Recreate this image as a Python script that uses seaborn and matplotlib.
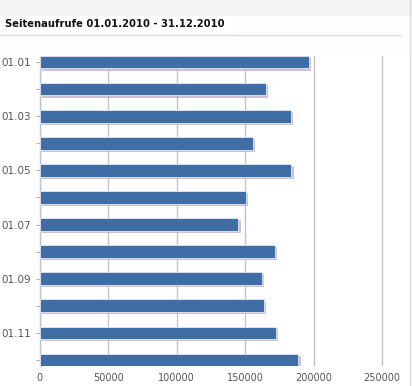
import matplotlib
matplotlib.use("Agg")
from matplotlib import pyplot as plt
from matplotlib import patheffects as pe
from matplotlib.patches import Rectangle
import numpy as np
import pandas as pd
import seaborn as sns

# page views per month
months = ["01.01", "01.02", "01.03", "01.04", "01.05", "01.06",
          "01.07", "01.08", "01.09", "01.10", "01.11", "01.12"]
views = [196900, 165200, 183500, 155700, 183900, 150800,
         145200, 171500, 162000, 164000, 172500, 189000]
xticks = [0, 50000, 100000, 150000, 200000, 250000]
title = "Seitenaufrufe 01.01.2010 - 31.12.2010"

df = pd.DataFrame({"month": months, "views": views})

sns.set_theme(style="white")
plt.rcParams['font.family'] = ['DejaVu Sans']

fig = plt.figure(figsize=(4.12, 3.86), dpi=100, facecolor="white")

# header strip + title box
fig.patches.append(Rectangle((0, 1 - 16 / 386), 1, 16 / 386, transform=fig.transFigure,
                             facecolor="#f4f4f4", edgecolor="none", zorder=0))
fig.patches.append(Rectangle((0, 1 - 50 / 386), 1, 34 / 386, transform=fig.transFigure,
                             facecolor="#fefcfe", edgecolor="none", zorder=0))
fig.patches.append(Rectangle((0, 1 - 34 / 386), 235 / 412, 18 / 386, transform=fig.transFigure,
                             facecolor="white", edgecolor="none", zorder=1))
fig.lines.append(plt.Line2D([0, 400 / 412], [1 - 35 / 386, 1 - 35 / 386], transform=fig.transFigure,
                            color="#dddddd", linewidth=1, zorder=2))
fig.lines.append(plt.Line2D([410 / 412, 410 / 412], [0, 1], transform=fig.transFigure,
                            color="#d8d8d8", linewidth=1, zorder=2))
fig.text(5 / 412, 1 - 24 / 386, title, fontsize=7.2, fontweight="bold",
         color="#111111", va="center", ha="left", zorder=3)

ax = fig.add_axes([39.7 / 412, 1 - 366 / 386, (408 - 39.7) / 412, (366 - 56) / 386])
sns.barplot(data=df, x="views", y="month", color="#3f6da6", saturation=1,
            width=0.46, ax=ax, zorder=3)
for bar in ax.patches:
    bar.set_edgecolor("#e8e8f0")
    bar.set_linewidth(0.6)
    bar.set_path_effects([pe.SimplePatchShadow(offset=(1.5, -1.5), shadow_rgbFace="#b8a8b8", alpha=0.7),
                          pe.Normal()])

ax.set_xlim(0, 269000)
ax.set_ylim(11.23, -0.23)
ax.set_xticks(xticks)
ax.set_xticklabels([str(t) for t in xticks])
ax.set_yticks(range(len(months)))
ax.set_yticklabels([m if i % 2 == 0 else "" for i, m in enumerate(months)])
ax.set_xlabel("")
ax.set_ylabel("")

ax.grid(axis="x", color="#c4c4c4", linewidth=1)
ax.set_axisbelow(True)
for side in ["top", "right", "bottom"]:
    ax.spines[side].set_visible(False)
ax.spines["left"].set_color("#b8c4d8")
ax.spines["left"].set_linewidth(1)
ax.tick_params(axis="y", length=3, width=0.8, color="#b0b0b0", labelsize=7.5,
               labelcolor="#555555", pad=3, left=True)
ax.tick_params(axis="x", length=0, labelsize=7, labelcolor="#555555", pad=5)

fig.savefig("out.png", dpi=100, facecolor=fig.get_facecolor())
